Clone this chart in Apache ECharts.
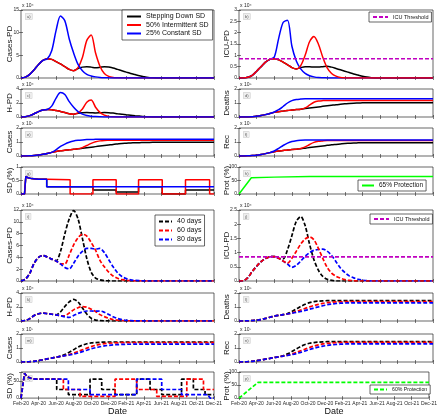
<!DOCTYPE html>
<html><head><meta charset="utf-8">
<script src="https://cdn.jsdelivr.net/npm/echarts@6/dist/echarts.min.js"></script>
<style>html,body{margin:0;padding:0;background:#fff}#c{width:440px;height:417px}</style>
</head><body><div id="c"></div>
<script>
// ---------- DATA ----------
const MONTHS = [0,0.5,1,1.5,2,2.5,3,3.5,4,4.5,5,5.5,6,6.5,7,7.5,8,8.5,9,9.5,10,10.5,11,11.5,12,12.5,13,13.5,14,14.5,15,15.5,16,22];
const TICK_LABELS = ['Feb-20','Apr-20','Jun-20','Aug-20','Oct-20','Dec-20','Feb-21','Apr-21','Jun-21','Aug-21','Oct-21','Dec-21'];
const NAMES_TOP = ['Stepping Down SD','50% Intermittent SD','25% Constant SD'];
const NAMES_BOT = ['40 days','60 days','80 days'];
const ICU_THRESHOLD = 0.85;

// top block: Cases-PD (x10^4)
const A_BLACK = [0,0.2,0.8,1.8,3.0,3.9,4.25,4.1,3.6,3.1,2.5,1.9,1.6,2.1,2.4,2.5,2.4,2.25,2.35,2.5,2.45,2.2,1.9,1.6,1.3,1.0,0.75,0.5,0.28,0.1,0.03,0,0,0];
const A_RED   = [0,0.2,0.8,1.8,3.0,3.9,4.25,4.1,3.6,3.1,2.5,1.9,1.6,2.3,4.5,8.3,9.5,5.5,2.6,1.0,0.35,0.1,0.03,0,0,0,0,0,0,0,0,0,0,0];
const A_BLUE  = [0,0.2,0.8,1.8,3.0,3.9,4.25,6.0,10.5,13.7,12.6,8.6,5.5,3.0,1.6,0.8,0.45,0.25,0.12,0.06,0.03,0.01,0,0,0,0,0,0,0,0,0,0,0,0];
// H-PD (x10^4)
const B_BLACK = [0,0.05,0.2,0.46,0.77,1.0,1.08,1.05,0.92,0.79,0.64,0.48,0.41,0.54,0.61,0.64,0.61,0.57,0.6,0.64,0.62,0.56,0.48,0.41,0.33,0.26,0.19,0.13,0.07,0.03,0.01,0,0,0];
const B_RED   = [0,0.05,0.2,0.46,0.77,1.0,1.08,1.05,0.92,0.79,0.64,0.48,0.41,0.59,1.15,2.1,2.42,1.4,0.66,0.26,0.09,0.03,0.01,0,0,0,0,0,0,0,0,0,0,0];
const B_BLUE  = [0,0.05,0.2,0.46,0.77,1.0,1.08,1.55,2.7,3.5,3.2,2.2,1.4,0.77,0.41,0.2,0.11,0.06,0.03,0.015,0.008,0.003,0,0,0,0,0,0,0,0,0,0,0,0];
// Cases (x10^7)
const C_BLACK = [0,0.003,0.012,0.035,0.07,0.12,0.18,0.26,0.32,0.37,0.41,0.45,0.48,0.51,0.55,0.59,0.63,0.67,0.71,0.75,0.79,0.83,0.86,0.89,0.91,0.93,0.945,0.955,0.965,0.97,0.975,0.975,0.975,0.975];
const C_RED   = [0,0.003,0.012,0.035,0.07,0.12,0.18,0.26,0.32,0.37,0.41,0.45,0.48,0.51,0.6,0.75,0.9,1.02,1.08,1.11,1.12,1.13,1.13,1.13,1.13,1.13,1.13,1.13,1.13,1.13,1.13,1.13,1.13,1.13];
const C_BLUE  = [0,0.003,0.012,0.035,0.07,0.12,0.18,0.26,0.45,0.68,0.85,0.98,1.07,1.12,1.15,1.17,1.18,1.19,1.2,1.2,1.2,1.2,1.2,1.2,1.2,1.2,1.2,1.2,1.2,1.2,1.2,1.2,1.2,1.2];
// SD (fraction), piecewise
const SD_T_BLACK_X = [0,0.4,0.55,0.8,1.2,2.0,2.93,2.93,8.2,8.2,10.85,10.85,13.4,13.4,16.1,16.1,18.75,18.75,22];
const SD_T_BLACK_Y = [0,0,0.65,0.6,0.57,0.55,0.55,0.27,0.27,0.15,0.15,0.07,0.07,0.27,0.27,0,0,0.15,0.15];
const SD_T_RED_X = [0,0.4,0.55,0.8,1.2,2.0,2.93,2.93,5.6,5.6,8.2,8.2,10.85,10.85,13.4,13.4,16.1,16.1,18.75,18.75,21.5,21.5,22];
const SD_T_RED_Y = [0,0,0.65,0.6,0.57,0.55,0.55,0.53,0.53,0,0,0.53,0.53,0,0,0.53,0.53,0,0,0.53,0.53,0,0];
const SD_T_BLUE_X = [0,0.4,0.55,0.8,1.2,2.0,2.93,2.93,22];
const SD_T_BLUE_Y = [0,0,0.65,0.6,0.57,0.55,0.55,0.27,0.27];
// ICU-PD (x10^4)
const ICU_T_BLACK = [0,0,0.03,0.12,0.3,0.5,0.7,0.82,0.85,0.8,0.7,0.58,0.46,0.4,0.46,0.5,0.5,0.48,0.48,0.5,0.52,0.48,0.42,0.36,0.3,0.24,0.18,0.13,0.08,0.04,0.015,0,0,0];
const ICU_T_BLUE  = [0,0,0.03,0.12,0.3,0.5,0.7,0.82,0.92,1.75,2.45,2.55,1.4,0.75,0.4,0.2,0.1,0.05,0.02,0.01,0.005,0,0,0,0,0,0,0,0,0,0,0,0,0];
const ICU_T_RED   = [0,0,0.03,0.12,0.3,0.5,0.7,0.82,0.85,0.8,0.7,0.58,0.46,0.4,0.55,1.0,1.6,1.83,1.5,0.92,0.45,0.2,0.08,0.02,0.005,0,0,0,0,0,0,0,0,0];
// Deaths (x10^5)
const D_T_BLACK = [0,0,0.005,0.02,0.05,0.1,0.17,0.25,0.33,0.38,0.42,0.46,0.5,0.53,0.56,0.6,0.64,0.68,0.72,0.76,0.8,0.84,0.88,0.91,0.94,0.97,0.99,1.0,1.01,1.02,1.02,1.02,1.02,1.02];
const D_T_RED   = [0,0,0.005,0.02,0.05,0.1,0.17,0.25,0.33,0.38,0.42,0.46,0.5,0.53,0.56,0.65,0.85,1.05,1.14,1.17,1.18,1.18,1.18,1.18,1.18,1.18,1.18,1.18,1.18,1.18,1.18,1.18,1.18,1.18];
const D_T_BLUE  = [0,0,0.005,0.02,0.05,0.1,0.17,0.25,0.36,0.52,0.75,1.0,1.17,1.25,1.28,1.3,1.3,1.3,1.3,1.3,1.3,1.3,1.3,1.3,1.3,1.3,1.3,1.3,1.3,1.3,1.3,1.3,1.3,1.3];
// Rec (x10^7)
const R_T_BLACK = [0,0.003,0.01,0.03,0.06,0.11,0.17,0.24,0.3,0.35,0.39,0.43,0.46,0.49,0.52,0.56,0.6,0.64,0.68,0.72,0.76,0.8,0.83,0.86,0.89,0.91,0.93,0.94,0.95,0.95,0.95,0.95,0.95,0.95];
const R_T_RED   = [0,0.003,0.01,0.03,0.06,0.11,0.17,0.24,0.3,0.35,0.39,0.43,0.46,0.49,0.53,0.65,0.82,0.97,1.05,1.08,1.1,1.1,1.1,1.1,1.1,1.1,1.1,1.1,1.1,1.1,1.1,1.1,1.1,1.1];
const R_T_BLUE  = [0,0.003,0.01,0.03,0.06,0.11,0.17,0.24,0.36,0.55,0.75,0.92,1.03,1.09,1.12,1.14,1.15,1.15,1.15,1.15,1.15,1.15,1.15,1.15,1.15,1.15,1.15,1.15,1.15,1.15,1.15,1.15,1.15,1.15];
// Protection (%)
const PROT_T_X = [0,1.4,4,8,22];
const PROT_T_Y = [0,60,62.5,65,65];

// bottom block: Cases-PD (x10^4)
const E_BLACK = [0,0.3,1.3,3.0,4.0,4.3,4.05,3.7,3.4,5.0,8.0,10.5,11.9,10.5,7.2,3.8,1.5,0.5,0.2,0.07,0.02,0,0,0,0,0,0,0,0,0,0,0,0,0];
const E_RED   = [0,0.3,1.3,3.0,4.0,4.3,4.05,3.7,3.4,2.9,2.9,4.4,6.1,7.3,7.9,7.6,6.5,5.2,3.5,2.4,1.5,0.85,0.45,0.22,0.11,0.05,0.02,0.01,0,0,0,0,0,0];
const E_BLUE  = [0,0.3,1.3,3.0,4.0,4.3,4.05,3.7,3.4,2.9,2.3,2.05,3.0,4.2,5.0,5.5,5.5,5.4,5.5,4.8,3.6,2.4,1.4,0.75,0.4,0.2,0.1,0.05,0.02,0,0,0,0,0];
// H-PD (x10^4)
const F_BLACK = [0,0.08,0.34,0.78,1.04,1.12,1.05,0.96,0.88,1.3,2.08,2.73,3.09,2.73,1.87,0.99,0.39,0.13,0.05,0.02,0.005,0,0,0,0,0,0,0,0,0,0,0,0,0];
const F_RED   = [0,0.08,0.34,0.78,1.04,1.12,1.05,0.96,0.88,0.75,0.75,1.14,1.59,1.9,2.05,1.98,1.69,1.35,0.91,0.62,0.39,0.22,0.12,0.06,0.03,0.013,0.005,0.002,0,0,0,0,0,0];
const F_BLUE  = [0,0.08,0.34,0.78,1.04,1.12,1.05,0.96,0.88,0.75,0.6,0.53,0.78,1.09,1.3,1.43,1.43,1.4,1.43,1.25,0.94,0.62,0.36,0.2,0.1,0.05,0.026,0.013,0.005,0,0,0,0,0];
// Cases (x10^7)
const G_BLACK = [0,0.005,0.02,0.05,0.1,0.16,0.22,0.28,0.34,0.42,0.54,0.7,0.88,1.06,1.2,1.3,1.36,1.39,1.41,1.42,1.43,1.43,1.43,1.43,1.43,1.43,1.43,1.43,1.43,1.43,1.43,1.43,1.43,1.43];
const G_RED   = [0,0.005,0.02,0.05,0.1,0.16,0.22,0.28,0.34,0.4,0.46,0.53,0.63,0.75,0.87,0.99,1.1,1.19,1.26,1.31,1.34,1.36,1.37,1.38,1.38,1.38,1.38,1.38,1.38,1.38,1.38,1.38,1.38,1.38];
const G_BLUE  = [0,0.005,0.02,0.05,0.1,0.16,0.22,0.28,0.34,0.4,0.45,0.5,0.56,0.64,0.74,0.84,0.94,1.02,1.09,1.15,1.19,1.22,1.24,1.255,1.265,1.27,1.275,1.275,1.275,1.275,1.275,1.275,1.275,1.275];
// SD (%), piecewise
const SD_B_BLACK_X = [0,0.2,0.4,0.7,1.2,1.7,4.07,4.07,5.4,5.4,7.87,7.87,9.2,9.2,10.72,10.72,13.19,13.19,14.71,14.71,16.04,16.04,18.3,18.3,19.65,19.65,20.98,20.98,22];
const SD_B_BLACK_Y = [0,0,72,62,57,55,55,25,25,10,10,55,55,25,25,10,10,55,55,25,25,10,10,55,55,25,25,10,10];
const SD_B_RED_X = [0,0.2,0.4,0.7,1.2,1.7,4.83,4.83,6.73,6.73,10.72,10.72,13.19,13.19,15.47,15.47,18.9,18.9,20.8,20.8,22];
const SD_B_RED_Y = [0,0,72,62,57,55,55,25,25,5,5,55,55,25,25,5,5,55,55,25,25];
const SD_B_BLUE_X = [0,0.2,0.4,0.7,1.2,1.7,5.4,5.4,7.87,7.87,13.19,13.19,16.04,16.04,18.3,18.3,21.3,21.55,22];
const SD_B_BLUE_Y = [0,0,72,62,57,55,55,25,25,10,10,55,55,25,25,10,10,0,0];
// ICU-PD (x10^4)
const J_BLACK = [0,0.01,0.12,0.33,0.52,0.68,0.79,0.85,0.86,0.8,0.78,1.1,1.6,2.1,2.27,1.95,1.3,0.75,0.38,0.16,0.06,0.02,0,0,0,0,0,0,0,0,0,0,0,0];
const J_BLUE  = [0,0.01,0.12,0.33,0.52,0.68,0.79,0.85,0.86,0.8,0.7,0.6,0.48,0.55,0.7,0.87,1.0,1.08,1.11,1.12,1.05,0.9,0.68,0.46,0.3,0.18,0.11,0.06,0.03,0.01,0,0,0,0];
const J_RED   = [0,0.01,0.12,0.33,0.52,0.68,0.79,0.85,0.86,0.8,0.7,0.63,0.8,1.05,1.3,1.48,1.55,1.45,1.15,0.8,0.48,0.28,0.17,0.1,0.05,0.02,0.01,0,0,0,0,0,0,0];
// Deaths (x10^5)
const L_BLACK = [0,0,0.01,0.025,0.05,0.1,0.18,0.27,0.34,0.4,0.45,0.54,0.68,0.86,1.04,1.2,1.31,1.38,1.42,1.44,1.45,1.45,1.45,1.45,1.45,1.45,1.45,1.45,1.45,1.45,1.45,1.45,1.45,1.45];
const L_RED   = [0,0,0.01,0.025,0.05,0.1,0.18,0.27,0.34,0.4,0.45,0.5,0.58,0.68,0.79,0.9,1.01,1.11,1.19,1.26,1.31,1.34,1.36,1.37,1.38,1.38,1.38,1.38,1.38,1.38,1.38,1.38,1.38,1.38];
const L_BLUE  = [0,0,0.01,0.025,0.05,0.1,0.18,0.27,0.34,0.4,0.45,0.5,0.56,0.62,0.68,0.76,0.84,0.93,1.01,1.09,1.16,1.21,1.25,1.27,1.285,1.295,1.3,1.3,1.3,1.3,1.3,1.3,1.3,1.3];
// Rec (x10^7)
const N_BLACK = [0,0.005,0.02,0.05,0.09,0.14,0.2,0.26,0.32,0.37,0.45,0.58,0.75,0.94,1.11,1.25,1.34,1.39,1.42,1.44,1.45,1.45,1.45,1.45,1.45,1.45,1.45,1.45,1.45,1.45,1.45,1.45,1.45,1.45];
const N_RED   = [0,0.005,0.02,0.05,0.09,0.14,0.2,0.26,0.32,0.37,0.42,0.48,0.57,0.68,0.8,0.92,1.04,1.14,1.22,1.29,1.33,1.36,1.38,1.39,1.4,1.4,1.4,1.4,1.4,1.4,1.4,1.4,1.4,1.4];
const N_BLUE  = [0,0.005,0.02,0.05,0.09,0.14,0.2,0.26,0.32,0.37,0.42,0.47,0.53,0.6,0.69,0.79,0.89,0.98,1.06,1.13,1.18,1.22,1.25,1.27,1.285,1.295,1.3,1.3,1.3,1.3,1.3,1.3,1.3,1.3];
// Protection (%)
const PROT_B_X = [0,2.2,22];
const PROT_B_Y = [0,60,60];

// ---------- LAYOUT / STYLE ----------
const FONT = '"Liberation Sans", Arial, Helvetica, sans-serif';
const BLACK = '#000000', RED = '#ff0000', BLUE = '#0000ff', MAG = '#c000c0', GREEN = '#00ff00';
const COLS = {L:{left:21, width:193, nameX:9.5}, R:{left:239, width:194, nameX:226.5}};
const RT = [{top:10,height:68},{top:89,height:28},{top:128,height:28},{top:167,height:27}];
const RB = [{top:210,height:71},{top:293,height:28},{top:334,height:28},{top:372,height:28}];

const zip = (xs, ys) => xs.map((x, i) => [x, ys[i]]);
const line = (name, color, xs, ys, dashed, smooth) => ({name, color, data: zip(xs, ys), dashed, smooth});
const trio = (names, ys, dashed, order) => {
  const cols = [BLACK, RED, BLUE];
  return order.map(k => line(names[k], cols[k], MONTHS, ys[k], dashed, true));
};
const thr = () => line('ICU Threshold', MAG, [0, 22], [ICU_THRESHOLD, ICU_THRESHOLD], true, false);

const panels = [
  {c:'L', r:RT[0], max:15, iv:5, name:'Cases-PD', exp:'x 10\u2074', tag:'a)', s:trio(NAMES_TOP,[A_BLACK,A_RED,A_BLUE],false,[0,1,2])},
  {c:'L', r:RT[1], max:4, iv:2, name:'H-PD', exp:'x 10\u2074', tag:'c)', s:trio(NAMES_TOP,[B_BLACK,B_RED,B_BLUE],false,[0,1,2])},
  {c:'L', r:RT[2], max:2, iv:1, name:'Cases', exp:'x 10\u2077', tag:'e)', s:trio(NAMES_TOP,[C_BLACK,C_RED,C_BLUE],false,[0,1,2])},
  {c:'L', r:RT[3], max:1, iv:0.5, name:'SD (%)', tag:'g)', s:[
    line(NAMES_TOP[0],BLACK,SD_T_BLACK_X,SD_T_BLACK_Y,false,false),
    line(NAMES_TOP[1],RED,SD_T_RED_X,SD_T_RED_Y,false,false),
    line(NAMES_TOP[2],BLUE,SD_T_BLUE_X,SD_T_BLUE_Y,false,false)]},
  {c:'R', r:RT[0], max:3, iv:0.5, name:'ICU-PD', exp:'x 10\u2074', tag:'b)', s:trio(NAMES_TOP,[ICU_T_BLACK,ICU_T_RED,ICU_T_BLUE],false,[0,2,1]).concat([thr()])},
  {c:'R', r:RT[1], max:2, iv:1, name:'Deaths', exp:'x 10\u2075', tag:'d)', s:trio(NAMES_TOP,[D_T_BLACK,D_T_RED,D_T_BLUE],false,[0,1,2])},
  {c:'R', r:RT[2], max:2, iv:1, name:'Rec', exp:'x 10\u2077', tag:'f)', s:trio(NAMES_TOP,[R_T_BLACK,R_T_RED,R_T_BLUE],false,[0,1,2])},
  {c:'R', r:RT[3], max:100, iv:50, name:'Prot (%)', tag:'h)', s:[line('65% Protection',GREEN,PROT_T_X,PROT_T_Y,false,false)]},
  {c:'L', r:RB[0], max:12, iv:2, name:'Cases-PD', exp:'x 10\u2074', tag:'i)', s:trio(NAMES_BOT,[E_BLACK,E_RED,E_BLUE],true,[0,1,2])},
  {c:'L', r:RB[1], max:4, iv:2, name:'H-PD', exp:'x 10\u2074', tag:'k)', s:trio(NAMES_BOT,[F_BLACK,F_RED,F_BLUE],true,[0,1,2])},
  {c:'L', r:RB[2], max:2, iv:1, name:'Cases', exp:'x 10\u2077', tag:'m)', s:trio(NAMES_BOT,[G_BLACK,G_RED,G_BLUE],true,[0,1,2])},
  {c:'L', r:RB[3], max:76, iv:50, name:'SD (%)', tag:'o)', xlab:true, s:[
    line(NAMES_BOT[0],BLACK,SD_B_BLACK_X,SD_B_BLACK_Y,true,false),
    line(NAMES_BOT[1],RED,SD_B_RED_X,SD_B_RED_Y,true,false),
    line(NAMES_BOT[2],BLUE,SD_B_BLUE_X,SD_B_BLUE_Y,true,false)]},
  {c:'R', r:RB[0], max:2.5, iv:0.5, name:'ICU-PD', exp:'x 10\u2074', tag:'j)', s:trio(NAMES_BOT,[J_BLACK,J_RED,J_BLUE],true,[0,2,1]).concat([thr()])},
  {c:'R', r:RB[1], max:2, iv:1, name:'Deaths', exp:'x 10\u2075', tag:'l)', s:trio(NAMES_BOT,[L_BLACK,L_RED,L_BLUE],true,[0,1,2])},
  {c:'R', r:RB[2], max:2, iv:1, name:'Rec', exp:'x 10\u2077', tag:'n)', s:trio(NAMES_BOT,[N_BLACK,N_RED,N_BLUE],true,[0,1,2])},
  {c:'R', r:RB[3], max:100, iv:50, name:'Prot (%)', tag:'p)', xlab:true, s:[line('60% Protection',GREEN,PROT_B_X,PROT_B_Y,true,false)]}
];

const AX = '#262626';
const tick = {show:true, inside:true, length:2, lineStyle:{color:AX, width:0.6}};
const option = {
  animation:false, backgroundColor:'#ffffff', textStyle:{fontFamily:FONT},
  grid:[], xAxis:[], yAxis:[], series:[], graphic:[], legend:[]
};

panels.forEach((p, i) => {
  const c = COLS[p.c];
  option.grid.push({left:c.left, top:p.r.top, width:c.width, height:p.r.height, show:true,
    borderColor:AX, borderWidth:0.7, backgroundColor:'#ffffff'});
  option.xAxis.push({gridIndex:i, type:'value', min:0, max:22, interval:2,
    axisLine:{show:false}, axisTick:tick, splitLine:{show:false},
    axisLabel:{show:!!p.xlab, fontSize:5, margin:3, color:AX, fontFamily:FONT,
      formatter:v => TICK_LABELS[Math.round(v/2)] || ''},
    name:p.xlab ? 'Date' : '', nameLocation:'middle', nameGap:8,
    nameTextStyle:{fontSize:9, color:'#111', fontFamily:FONT}});
  option.xAxis.push({gridIndex:i, type:'value', position:'top', min:0, max:22, interval:2,
    axisLine:{show:false}, axisTick:tick, splitLine:{show:false}, axisLabel:{show:false}});
  option.yAxis.push({gridIndex:i, type:'value', min:0, max:p.max, interval:p.iv,
    axisLine:{show:false}, axisTick:tick, splitLine:{show:false},
    axisLabel:{fontSize:5, margin:2, color:AX, fontFamily:FONT,
      formatter:v => (Math.abs(v/p.iv - Math.round(v/p.iv)) < 1e-6 ? String(+v.toFixed(3)) : '')}});
  option.yAxis.push({gridIndex:i, type:'value', position:'right', min:0, max:p.max, interval:p.iv,
    axisLine:{show:false}, axisTick:tick, splitLine:{show:false}, axisLabel:{show:false}});
  p.s.forEach(s => option.series.push({
    type:'line', name:s.name, xAxisIndex:2*i, yAxisIndex:2*i, data:s.data,
    symbol:'none', smooth:s.smooth ? 0.3 : false, silent:true,
    lineStyle:{color:s.color, width:s.dashed ? 1.7 : 1.5, type:s.dashed ? [4,2] : 'solid'},
    itemStyle:{color:s.color}
  }));
  // y-axis title
  option.graphic.push({type:'text', x:c.nameX, y:p.r.top + p.r.height/2, rotation:Math.PI/2,
    style:{text:p.name, fontSize:8, fill:'#111', fontFamily:FONT, align:'center', verticalAlign:'middle'}});
  if (p.exp) option.graphic.push({type:'text', left:c.left + 1, top:p.r.top - 7,
    style:{text:p.exp, fontSize:5, fill:AX, fontFamily:FONT}});
  option.graphic.push({type:'text', left:c.left + 4, top:p.r.top + 3,
    style:{text:p.tag, fontSize:4, fill:'#555', fontFamily:FONT, backgroundColor:'#eeeeee',
      borderColor:'#cccccc', borderWidth:0.5, padding:[1,1.5]}});
});

const lg = (data, left, top, fs, iw, extra) => Object.assign({
  data, left, top, orient:'vertical', selectedMode:false, itemWidth:iw, itemHeight:6, itemGap:1,
  padding:[2,3], borderColor:AX, borderWidth:0.7, backgroundColor:'#ffffff', borderRadius:0,
  itemStyle:{opacity:0},
  textStyle:{fontSize:fs, color:'#111', fontFamily:FONT}
}, extra || {});
option.legend = [
  lg(NAMES_TOP, 122, 10, 7, 14, {padding:[3,4], itemGap:1.5}),
  lg(['ICU Threshold'], 369, 12, 5.5, 15),
  lg(['65% Protection'], 358, 180, 6.5, 12),
  lg(NAMES_BOT, 155, 215, 7, 13, {padding:[3,3], itemGap:2}),
  lg(['ICU Threshold'], 370, 214, 5.5, 15),
  lg(['60% Protection'], 370, 385, 5.2, 13)
];

const chart = echarts.init(document.getElementById('c'), null, {renderer:'canvas'});
chart.setOption(option);
</script>
</body></html>
